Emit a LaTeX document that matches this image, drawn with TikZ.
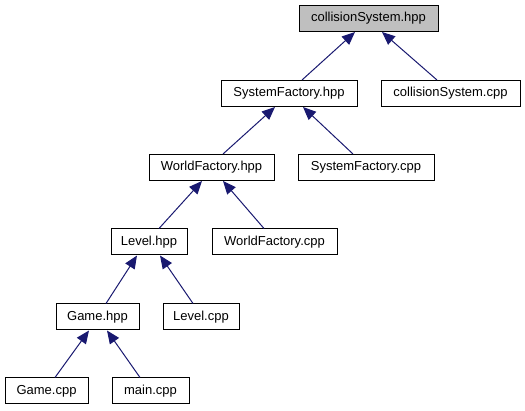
\documentclass[tikz,border=0pt]{standalone}
\usepackage{fontspec}
\setmainfont{Liberation Sans}
\usetikzlibrary{arrows.meta}
\definecolor{edgeblue}{HTML}{191970}
\definecolor{rootgray}{HTML}{BFBFBF}
\tikzset{
  filebox/.style={draw=black, line width=1pt, fill=white, minimum height=26pt, inner sep=0pt, font=\fontsize{13}{15}\selectfont},
  incl/.style={draw=edgeblue, line width=1pt, -{Triangle[length=13pt,width=11pt]}, color=edgeblue},
}
\begin{document}
\begin{tikzpicture}[x=1pt,y=-1pt]
\useasboundingbox (0,0) rectangle (525,411);
\node[filebox, fill=rootgray, minimum width=139pt] (csh) at (368.5,18.5) {collisionSystem.hpp};
\node[filebox, minimum width=136pt] (sfh) at (289,93.5) {SystemFactory.hpp};
\node[filebox, minimum width=139pt] (csc) at (450.5,93.5) {collisionSystem.cpp};
\node[filebox, minimum width=125pt] (wfh) at (211.5,167.5) {WorldFactory.hpp};
\node[filebox, minimum width=136pt] (sfc) at (366,167.5) {SystemFactory.cpp};
\node[filebox, minimum width=76pt] (lvh) at (149,242) {Level.hpp};
\node[filebox, minimum width=125pt] (wfc) at (274.5,242) {WorldFactory.cpp};
\node[filebox, minimum width=83pt] (gh) at (97.5,317) {Game.hpp};
\node[filebox, minimum width=76pt] (lvc) at (201,317) {Level.cpp};
\node[filebox, minimum width=83pt] (gc) at (46.5,391) {Game.cpp};
\node[filebox, minimum width=77pt] (mc) at (150.5,391) {main.cpp};
\draw[incl] ([xshift=13pt]sfh.north) -- ([xshift=-13.5pt]csh.south);
\draw[incl] ([xshift=-13.5pt]csc.north) -- ([xshift=13.5pt]csh.south);
\draw[incl] ([xshift=11.5pt]wfh.north) -- ([xshift=-14pt]sfh.south);
\draw[incl] ([xshift=-13pt]sfc.north) -- ([xshift=14pt]sfh.south);
\draw[incl] ([xshift=10pt]lvh.north) -- ([xshift=-9.5pt]wfh.south);
\draw[incl] ([xshift=-10.5pt]wfc.north) -- ([xshift=11.5pt]wfh.south);
\draw[incl] ([xshift=8.5pt]gh.north) -- ([xshift=-12pt]lvh.south);
\draw[incl] ([xshift=-8pt]lvc.north) -- ([xshift=11pt]lvh.south);
\draw[incl] ([xshift=8.5pt]gc.north) -- ([xshift=-8.5pt]gh.south);
\draw[incl] ([xshift=-10.5pt]mc.north) -- ([xshift=9.5pt]gh.south);
\end{tikzpicture}
\end{document}
